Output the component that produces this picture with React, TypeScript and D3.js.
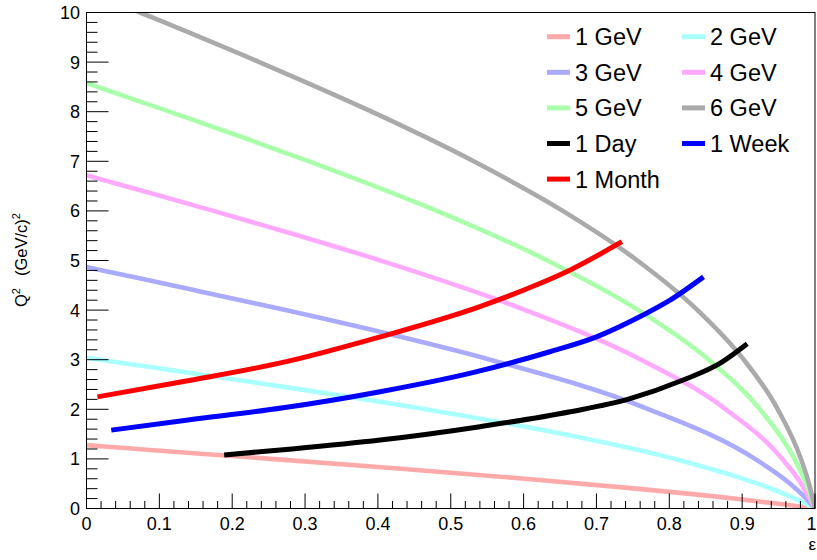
import React from "react";
import * as d3 from "d3";

type Pt = [number, number];

// Beam-energy curves: [epsilon, Q^2]
const gev1: Pt[] = [[0, 1.278], [0.0246, 1.25], [0.07, 1.2], [0.161, 1.1], [0.253, 1.0], [0.432, 0.8], [0.602, 0.6], [0.755, 0.4], [0.889, 0.2], [0.947, 0.1], [0.9743, 0.05], [1, 0]];
const gev2: Pt[] = [[0, 3.04], [0.0186, 3.0], [0.0651, 2.9], [0.1348, 2.75], [0.2495, 2.5], [0.466, 2.0], [0.6545, 1.5], [0.807, 1.0], [0.9213, 0.5], [0.9648, 0.25], [0.9869, 0.1], [1, 0]];
const gev3: Pt[] = [[0, 4.868], [0.0218, 4.8], [0.0537, 4.7], [0.1489, 4.4], [0.2732, 4.0], [0.4203, 3.5], [0.5542, 3.0], [0.7718, 2.0], [0.9176, 1.0], [0.9659, 0.5], [0.9846, 0.25], [1, 0]];
const gev4: Pt[] = [[0, 6.718], [0.0288, 6.6], [0.0776, 6.4], [0.1742, 6.0], [0.2917, 5.5], [0.4035, 5.0], [0.6025, 4.0], [0.7612, 3.0], [0.8775, 2.0], [0.955, 1.0], [0.9811, 0.5], [1, 0]];
const gev5: Pt[] = [[0, 8.578], [0.0154, 8.5], [0.0549, 8.3], [0.114, 8.0], [0.2112, 7.5], [0.3054, 7.0], [0.4809, 6.0], [0.6328, 5.0], [0.7575, 4.0], [0.8541, 3.0], [0.9244, 2.0], [0.9718, 1.0], [0.988, 0.5], [1, 0]];
const gev6: Pt[] = [[0, 10.443], [0.0737, 10.0], [0.2371, 9.0], [0.3915, 8.0], [0.5316, 7.0], [0.6538, 6.0], [0.7562, 5.0], [0.8387, 4.0], [0.9023, 3.0], [0.9489, 2.0], [0.9807, 1.0], [0.9917, 0.5], [1, 0]];

// Beam-time curves
const oneDay: Pt[] = [[0.189, 1.08], [0.274, 1.19], [0.403, 1.38], [0.54, 1.65], [0.664, 1.95], [0.745, 2.21], [0.819, 2.59], [0.87, 2.93], [0.907, 3.32]];
const oneWeek: Pt[] = [[0.034, 1.58], [0.137, 1.78], [0.27, 2.03], [0.403, 2.355], [0.533, 2.75], [0.636, 3.16], [0.7, 3.46], [0.764, 3.9], [0.801, 4.2], [0.847, 4.67]];
const oneMonth: Pt[] = [[0.015, 2.25], [0.137, 2.57], [0.274, 2.96], [0.403, 3.46], [0.54, 4.07], [0.618, 4.51], [0.664, 4.81], [0.735, 5.38]];

const energyNames = ["1 GeV", "2 GeV", "3 GeV", "4 GeV", "5 GeV", "6 GeV"];
const energyColors = ["#ffaaaa", "#aaffff", "#aaaaff", "#ffaaff", "#aaffaa", "#aaaaaa"];
const energyData = [gev1, gev2, gev3, gev4, gev5, gev6];

const timeNames = ["1 Day", "1 Week", "1 Month"];
const timeColors = ["#000000", "#0000ff", "#ff0000"];
const timeData = [oneDay, oneWeek, oneMonth];

const xTickValues = [0, 0.1, 0.2, 0.3, 0.4, 0.5, 0.6, 0.7, 0.8, 0.9, 1];
const yTickValues = [0, 1, 2, 3, 4, 5, 6, 7, 8, 9, 10];

const W = 817;
const H = 560;
const L = 86.5;
const R = 815;
const T = 12.5;
const B = 508.5;
const FONT = "'Liberation Sans', Arial, Helvetica, sans-serif";

export default function App() {
  const x = d3.scaleLinear().domain([0, 1]).range([L, R]);
  const y = d3.scaleLinear().domain([0, 10]).range([B, T]);
  const line = d3
    .line<Pt>()
    .x((d) => x(d[0]))
    .y((d) => y(d[1]))
    .curve(d3.curveMonotoneX);

  const xMinor = d3.range(0, 51).map((i) => i / 50);
  const yMinor = d3.range(0, 51).map((i) => i / 5);

  const legendEntries = [
    ...energyNames.map((n, i) => ({ name: n, color: energyColors[i] })),
    ...timeNames.map((n, i) => ({ name: n, color: timeColors[i] })),
  ];
  const rowY0 = 36.7;
  const rowStep = 35.6;
  const colX = [547, 682];

  return (
    <svg
      width={W}
      height={H}
      style={{ position: "absolute", left: 0, top: 0, background: "#fff" }}
      fontFamily={FONT}
    >
      <defs>
        <clipPath id="plotclip">
          <rect x={L} y={T} width={R - L} height={B - T} />
        </clipPath>
      </defs>
      <rect x={0} y={0} width={W} height={H} fill="#fff" />

      <g clipPath="url(#plotclip)" fill="none" strokeLinecap="butt">
        {energyData.map((d, i) => (
          <path key={"e" + i} d={line(d) || ""} stroke={energyColors[i]} strokeWidth={4.6} />
        ))}
        {timeData.map((d, i) => (
          <path key={"t" + i} d={line(d) || ""} stroke={timeColors[i]} strokeWidth={5} />
        ))}
      </g>

      <rect x={L} y={T} width={R - L} height={B - T} fill="none" stroke="#000" strokeWidth={1} />

      {xMinor.map((v, i) => {
        const major = i % 5 === 0;
        return (
          <line key={"xm" + i} x1={x(v)} x2={x(v)} y1={B} y2={B - (major ? 15 : 7.5)} stroke="#000" strokeWidth={1} />
        );
      })}
      {yMinor.map((v, i) => {
        const major = i % 5 === 0;
        return (
          <line key={"ym" + i} x1={L} x2={L + (major ? 22 : 11)} y1={y(v)} y2={y(v)} stroke="#000" strokeWidth={1} />
        );
      })}

      {xTickValues.map((v) => {
        const last = v === 1;
        return (
          <text
            key={"xl" + v}
            x={last ? W - 0.5 : x(v)}
            y={529.5}
            textAnchor={last ? "end" : "middle"}
            fontSize={18}
            fill="#000"
          >
            {d3.format("~g")(v)}
          </text>
        );
      })}
      {yTickValues.map((v) => (
        <text key={"yl" + v} x={80} y={y(v) + 6.4} textAnchor="end" fontSize={18} fill="#000">
          {v}
        </text>
      ))}

      <text x={W - 1} y={550} textAnchor="end" fontSize={17} fill="#000">
        ε
      </text>
      <text transform={`translate(26.5, 260) rotate(-90)`} textAnchor="middle" fontSize={16.5} fill="#000">
        <tspan>Q</tspan>
        <tspan fontSize={11} dy={-7}>2</tspan>
        <tspan dy={7} dx={12}>(GeV/c)</tspan>
        <tspan fontSize={11} dy={-7}>2</tspan>
      </text>

      {legendEntries.map((e, i) => {
        const col = i % 2;
        const row = Math.floor(i / 2);
        const cy = rowY0 + row * rowStep;
        const lx = colX[col];
        return (
          <g key={"lg" + i}>
            <line x1={lx} x2={lx + 23} y1={cy} y2={cy} stroke={e.color} strokeWidth={5} />
            <text x={lx + 28} y={cy + 8.4} fontSize={23.5} fill="#000">
              {e.name}
            </text>
          </g>
        );
      })}
    </svg>
  );
}
